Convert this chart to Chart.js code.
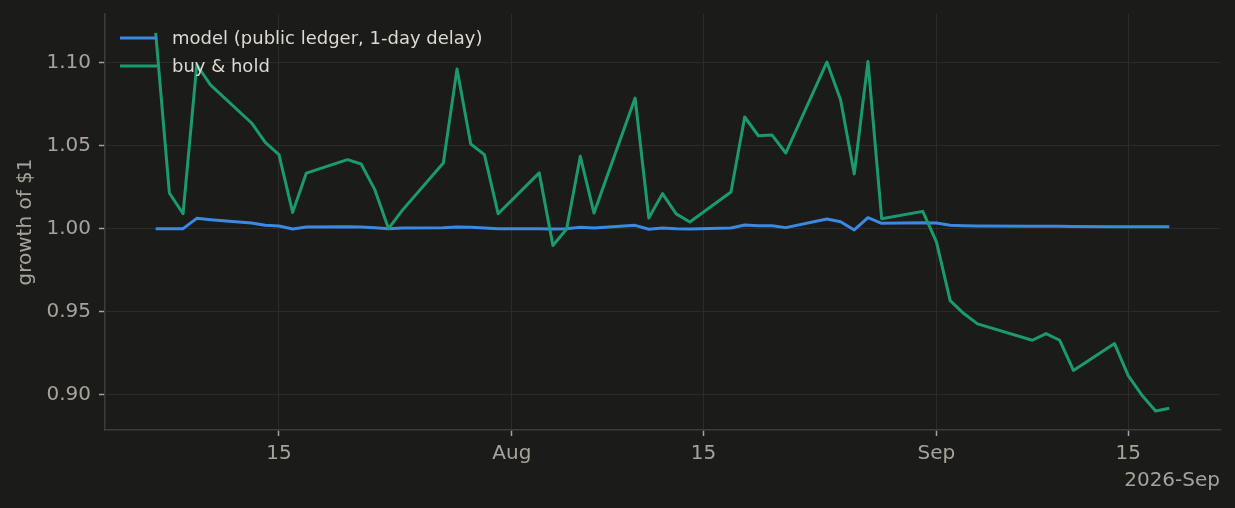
<!DOCTYPE html>
<html>
<head>
<meta charset="utf-8">
<title>growth of $1</title>
<script src="https://cdn.jsdelivr.net/npm/chart.js@4.4.1/dist/chart.umd.min.js"></script>
<style>
  html, body { margin: 0; padding: 0; background: #1b1b19; }
  #wrap { width: 1235px; height: 508px; position: relative; }
</style>
</head>
<body>
<div id="wrap"><canvas id="growth-chart"></canvas></div>
<script>
// Trading days shown on the chart
var dates = [
  '2026-07-06', '2026-07-07', '2026-07-08', '2026-07-09', '2026-07-10',
  '2026-07-13', '2026-07-14', '2026-07-15', '2026-07-16', '2026-07-17',
  '2026-07-20', '2026-07-21', '2026-07-22', '2026-07-23', '2026-07-24',
  '2026-07-27', '2026-07-28', '2026-07-29', '2026-07-30', '2026-07-31',
  '2026-08-03', '2026-08-04', '2026-08-05', '2026-08-06', '2026-08-07',
  '2026-08-10', '2026-08-11', '2026-08-12', '2026-08-13', '2026-08-14',
  '2026-08-17', '2026-08-18', '2026-08-19', '2026-08-20', '2026-08-21',
  '2026-08-24', '2026-08-25', '2026-08-26', '2026-08-27', '2026-08-28',
  '2026-08-31', '2026-09-01', '2026-09-02', '2026-09-03', '2026-09-04',
  '2026-09-08', '2026-09-09', '2026-09-10', '2026-09-11',
  '2026-09-14', '2026-09-15', '2026-09-16', '2026-09-17', '2026-09-18'
];

var modelValues = [
  1.000, 1.000, 1.000, 1.0062, 1.0054,
  1.0034, 1.002, 1.0016, 0.9998, 1.001,
  1.0012, 1.001, 1.0006, 1.000, 1.0004,
  1.0006, 1.001, 1.0008, 1.0004, 1.000,
  1.000, 0.9998, 1.000, 1.0008, 1.0004,
  1.002, 0.9996, 1.0004, 1.000, 0.9998,
  1.0004, 1.0022, 1.0018, 1.0018, 1.0006,
  1.0058, 1.0042, 0.9992, 1.0066, 1.0032,
  1.0036, 1.0034, 1.002, 1.0018, 1.0016,
  1.0015, 1.0014, 1.0014, 1.0013,
  1.0012, 1.0012, 1.0012, 1.0012, 1.0012
];

var holdValues = [
  1.118, 1.0215, 1.009, 1.0988, 1.0867,
  1.0637, 1.052, 1.0446, 1.0098, 1.0335,
  1.0416, 1.039, 1.0235, 1.000, 1.011,
  1.0396, 1.0962, 1.051, 1.0446, 1.009,
  1.0336, 0.9898, 0.9998, 1.0436, 1.0094,
  1.0787, 1.0064, 1.0211, 1.0089, 1.004,
  1.0221, 1.0673, 1.056, 1.0564, 1.0456,
  1.1004, 1.0777, 1.033, 1.1008, 1.006,
  1.0104, 0.992, 0.9566, 0.9488, 0.9426,
  0.9327, 0.9367, 0.9327, 0.9145,
  0.9307, 0.9114, 0.8996, 0.890, 0.8917
];

// Axis ticks
var xTickDates = ['2026-07-15', '2026-08-01', '2026-08-15', '2026-09-01', '2026-09-15'];
var xTickLabels = ['15', 'Aug', '15', 'Sep', '15'];
var yTicks = [0.90, 0.95, 1.00, 1.05, 1.10];

var seriesNames = ['model (public ledger, 1-day delay)', 'buy & hold'];
var seriesColors = ['#3a8ae4', '#1b9b6d'];

// days since 2026-07-01
function dayNum(s) {
  var p = s.split('-');
  return (Date.UTC(+p[0], +p[1] - 1, +p[2]) - Date.UTC(2026, 6, 1)) / 864e5;
}

function toPoints(values) {
  return values.map(function (v, i) { return { x: dayNum(dates[i]), y: v }; });
}

var xTickValues = xTickDates.map(dayNum);

// matplotlib-like 5% margins
var xFirst = dayNum(dates[0]), xLast = dayNum(dates[dates.length - 1]);
var xPad = (xLast - xFirst) * 0.05;
var allY = modelValues.concat(holdValues);
var yLo = Math.min.apply(null, allY), yHi = Math.max.apply(null, allY);
var yPad = (yHi - yLo) * 0.05;

var textGrey = '#a7a39b';
var font = 'DejaVu Sans';

// legend in the upper-left corner plus the date offset label
var overlayPlugin = {
  id: 'overlay',
  afterDraw: function (chart) {
    var ctx = chart.ctx;
    var area = chart.chartArea;
    ctx.save();
    ctx.font = '18px "' + font + '"';
    ctx.textBaseline = 'middle';
    ctx.textAlign = 'left';
    seriesNames.forEach(function (name, i) {
      var y = area.top + 24 + i * 28;
      ctx.strokeStyle = seriesColors[i];
      ctx.lineWidth = 3;
      ctx.beginPath();
      ctx.moveTo(area.left + 15, y);
      ctx.lineTo(area.left + 52, y);
      ctx.stroke();
      ctx.fillStyle = '#dedad2';
      ctx.fillText(name, area.left + 67, y + 1);
    });
    ctx.font = '20px "' + font + '"';
    ctx.fillStyle = textGrey;
    ctx.textAlign = 'right';
    ctx.fillText('2026-Sep', area.right, 481);
    ctx.restore();
  }
};

var chartConfig = {
  type: 'line',
  data: {
    datasets: [
      {
        label: seriesNames[0],
        data: toPoints(modelValues),
        borderColor: seriesColors[0],
        borderWidth: 3,
        borderJoinStyle: 'round',
        pointRadius: 0,
        fill: false,
        order: 2
      },
      {
        label: seriesNames[1],
        data: toPoints(holdValues),
        borderColor: seriesColors[1],
        borderWidth: 3,
        borderJoinStyle: 'round',
        pointRadius: 0,
        fill: false,
        order: 1
      }
    ]
  },
  options: {
    responsive: true,
    maintainAspectRatio: false,
    animation: false,
    layout: { padding: { top: 14, right: 15, left: 0, bottom: 0 } },
    plugins: {
      legend: { display: false },
      tooltip: { enabled: false }
    },
    scales: {
      x: {
        type: 'linear',
        min: xFirst - xPad,
        max: xLast + xPad,
        afterBuildTicks: function (scale) {
          scale.ticks = xTickValues.map(function (v) { return { value: v }; });
        },
        afterFit: function (scale) {
          scale.height = 78;
          scale.paddingLeft = 0;
          scale.paddingRight = 0;
        },
        ticks: {
          color: textGrey,
          font: { family: font, size: 20 },
          padding: 6,
          maxRotation: 0,
          autoSkip: false,
          callback: function (value) {
            var i = xTickValues.indexOf(value);
            return i >= 0 ? xTickLabels[i] : '';
          }
        },
        grid: {
          color: '#2b2b29',
          lineWidth: 1,
          tickColor: textGrey,
          tickLength: 6,
          tickWidth: 1.5
        },
        border: { color: '#3c3c39', width: 1.5 }
      },
      y: {
        min: yLo - yPad,
        max: yHi + yPad,
        afterBuildTicks: function (scale) {
          scale.ticks = yTicks.map(function (v) { return { value: v }; });
        },
        afterFit: function (scale) {
          scale.width = 105;
          scale.paddingTop = 0;
          scale.paddingBottom = 0;
        },
        ticks: {
          color: textGrey,
          font: { family: font, size: 20 },
          padding: 8,
          callback: function (value) { return value.toFixed(2); }
        },
        title: {
          display: true,
          text: 'growth of $1',
          color: textGrey,
          font: { family: font, size: 20 },
          padding: { top: 14, bottom: 0 }
        },
        grid: {
          color: '#2b2b29',
          lineWidth: 1,
          tickColor: textGrey,
          tickLength: 6,
          tickWidth: 1.5
        },
        border: { color: '#3c3c39', width: 1.5 }
      }
    }
  },
  plugins: [overlayPlugin]
};

var growthChart = new Chart(document.getElementById('growth-chart'), chartConfig);
</script>
</body>
</html>
